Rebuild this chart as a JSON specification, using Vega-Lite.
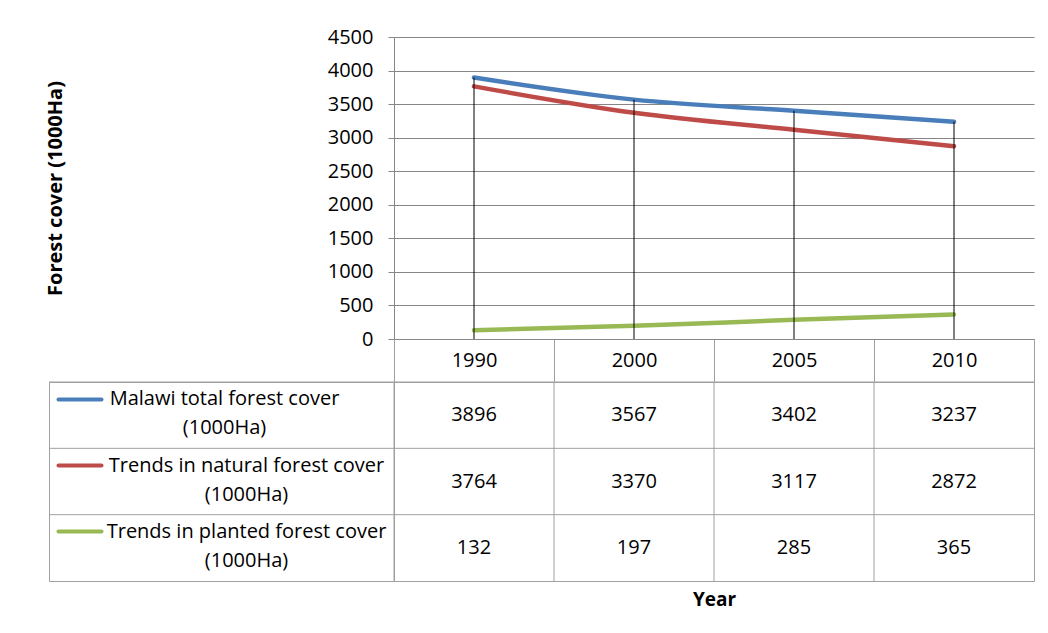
{
  "$schema": "https://vega.github.io/schema/vega-lite/v6.json",
  "background": "white",
  "padding": {"left": 45, "top": 27, "right": 10, "bottom": 10},
  "datasets": {
    "forest": [
      {"year": "1990", "series": "Malawi total forest cover (1000Ha)", "value": 3896},
      {"year": "2000", "series": "Malawi total forest cover (1000Ha)", "value": 3567},
      {"year": "2005", "series": "Malawi total forest cover (1000Ha)", "value": 3402},
      {"year": "2010", "series": "Malawi total forest cover (1000Ha)", "value": 3237},
      {"year": "1990", "series": "Trends in natural forest cover (1000Ha)", "value": 3764},
      {"year": "2000", "series": "Trends in natural forest cover (1000Ha)", "value": 3370},
      {"year": "2005", "series": "Trends in natural forest cover (1000Ha)", "value": 3117},
      {"year": "2010", "series": "Trends in natural forest cover (1000Ha)", "value": 2872},
      {"year": "1990", "series": "Trends in planted forest cover (1000Ha)", "value": 132},
      {"year": "2000", "series": "Trends in planted forest cover (1000Ha)", "value": 197},
      {"year": "2005", "series": "Trends in planted forest cover (1000Ha)", "value": 285},
      {"year": "2010", "series": "Trends in planted forest cover (1000Ha)", "value": 365}
    ]
  },
  "columns": 2,
  "spacing": {"row": 43, "column": 0},
  "bounds": "flush",
  "resolve": {"scale": {"x": "independent", "y": "independent", "color": "independent"}},
  "config": {
    "view": {"stroke": null},
    "font": "Open Sans",
    "axis": {"labelFont": "Open Sans", "titleFont": "Open Sans", "labelColor": "#000000", "titleColor": "#000000"}
  },
  "concat": [
    {
      "width": 345,
      "height": 302,
      "data": {"values": [{"t": ""}]},
      "mark": {"type": "text"},
      "encoding": {"text": {"field": "t", "type": "nominal"}}
    },
    {
      "width": 640,
      "height": 302,
      "data": {"name": "forest"},
      "encoding": {
        "x": {
          "field": "year",
          "type": "nominal",
          "scale": {"type": "band", "domain": ["1990", "2000", "2005", "2010"], "paddingInner": 0, "paddingOuter": 0},
          "axis": {
            "orient": "bottom",
            "title": null,
            "domainColor": "#868686",
            "tickBand": "extent",
            "tickSize": 43,
            "tickColor": "#a0a0a0",
            "labelFontSize": 20,
            "labelBaseline": "middle",
            "labelPadding": -22,
            "labelAngle": 0,
            "grid": false
          }
        }
      },
      "layer": [
        {
          "mark": {"type": "line", "interpolate": "monotone", "strokeWidth": 4.5, "strokeCap": "round"},
          "encoding": {
            "y": {
              "field": "value",
              "type": "quantitative",
              "scale": {"domain": [0, 4500], "nice": false, "zero": true},
              "axis": {
                "values": [0, 500, 1000, 1500, 2000, 2500, 3000, 3500, 4000, 4500],
                "format": "d",
                "title": "Forest cover (1000Ha)",
                "titleFontSize": 20,
                "titleFontWeight": "bold",
                "titlePadding": 262,
                "labelFontSize": 20,
                "labelPadding": 15,
                "tickSize": 6,
                "tickColor": "#868686",
                "domainColor": "#868686",
                "grid": true,
                "gridColor": "#868686",
                "gridOpacity": 1
              }
            },
            "color": {
              "field": "series",
              "type": "nominal",
              "scale": {
                "domain": ["Malawi total forest cover (1000Ha)", "Trends in natural forest cover (1000Ha)", "Trends in planted forest cover (1000Ha)"],
                "range": ["#4A7EBB", "#BE4B48", "#98B954"]
              },
              "legend": null
            }
          }
        },
        {
          "mark": {"type": "rule", "color": "#000000", "strokeWidth": 1},
          "encoding": {
            "y": {
              "aggregate": "max",
              "field": "value",
              "type": "quantitative",
              "axis": {
                "values": [0, 500, 1000, 1500, 2000, 2500, 3000, 3500, 4000, 4500],
                "format": "d",
                "title": "Forest cover (1000Ha)",
                "titleFontSize": 20,
                "titleFontWeight": "bold",
                "titlePadding": 262,
                "labelFontSize": 20,
                "labelPadding": 15,
                "tickSize": 6,
                "tickColor": "#868686",
                "domainColor": "#868686",
                "grid": true,
                "gridColor": "#868686",
                "gridOpacity": 1
              }
            },
            "y2": {"datum": 0}
          }
        }
      ]
    },
    {
      "width": 345,
      "height": 199,
      "view": {"stroke": "#a0a0a0", "strokeWidth": 1},
      "data": {"name": "forest"},
      "transform": [{"filter": "datum.year === '1990'"}],
      "mark": {"type": "rule", "color": "#a0a0a0", "strokeWidth": 1},
      "encoding": {
        "y": {
          "field": "series",
          "type": "nominal",
          "bandPosition": 0,
          "scale": {
            "type": "band",
            "domain": ["Malawi total forest cover (1000Ha)", "Trends in natural forest cover (1000Ha)", "Trends in planted forest cover (1000Ha)"],
            "paddingInner": 0,
            "paddingOuter": 0
          },
          "axis": {
            "orient": "right",
            "offset": -336,
            "title": null,
            "domain": false,
            "grid": false,
            "tickSize": 43,
            "tickWidth": 4,
            "tickCap": "round",
            "tickOffset": -16.5,
            "labelOffset": 0,
            "labelAlign": "center",
            "labelFontSize": 20,
            "labelLineHeight": 29,
            "labelLimit": 500,
            "labelPadding": {"condition": {"test": "datum.value === 'Malawi total forest cover (1000Ha)'", "value": 123}, "value": 145},
            "labelExpr": "[replace(datum.label, ' (1000Ha)', ''), '(1000Ha)']",
            "tickColor": {
              "condition": [
                {"test": "datum.value === 'Malawi total forest cover (1000Ha)'", "value": "#4A7EBB"},
                {"test": "datum.value === 'Trends in natural forest cover (1000Ha)'", "value": "#BE4B48"}
              ],
              "value": "#98B954"
            }
          }
        }
      }
    },
    {
      "width": 640,
      "height": 199,
      "view": {"stroke": "#a0a0a0", "strokeWidth": 1},
      "data": {"name": "forest"},
      "layer": [
        {
          "transform": [{"filter": "datum.series === 'Malawi total forest cover (1000Ha)'"}],
          "mark": {"type": "rule", "color": "#a0a0a0", "strokeWidth": 1},
          "encoding": {
            "x": {
              "field": "year",
              "type": "nominal",
              "bandPosition": 0,
              "scale": {"type": "band", "domain": ["1990", "2000", "2005", "2010"], "paddingInner": 0, "paddingOuter": 0},
              "axis": {
                "title": "Year",
                "titleFontSize": 19,
                "titleFontWeight": "bold",
                "titlePadding": 9,
                "labels": false,
                "ticks": false,
                "domain": false,
                "grid": false
              }
            }
          }
        },
        {
          "transform": [{"filter": "datum.year === '1990'"}],
          "mark": {"type": "rule", "color": "#a0a0a0", "strokeWidth": 1},
          "encoding": {
            "y": {
              "field": "series",
              "type": "nominal",
              "bandPosition": 0,
              "scale": {
                "type": "band",
                "domain": ["Malawi total forest cover (1000Ha)", "Trends in natural forest cover (1000Ha)", "Trends in planted forest cover (1000Ha)"],
                "paddingInner": 0,
                "paddingOuter": 0
              },
              "axis": null
            }
          }
        },
        {
          "mark": {"type": "text", "fontSize": 20, "color": "#000000", "font": "Open Sans"},
          "encoding": {
            "x": {"field": "year", "type": "nominal", "axis": {"title": "Year", "titleFontSize": 19, "titleFontWeight": "bold", "titlePadding": 9, "labels": false, "ticks": false, "domain": false, "grid": false}},
            "y": {"field": "series", "type": "nominal", "axis": null},
            "text": {"field": "value", "type": "quantitative", "format": "d"}
          }
        }
      ]
    }
  ]
}
